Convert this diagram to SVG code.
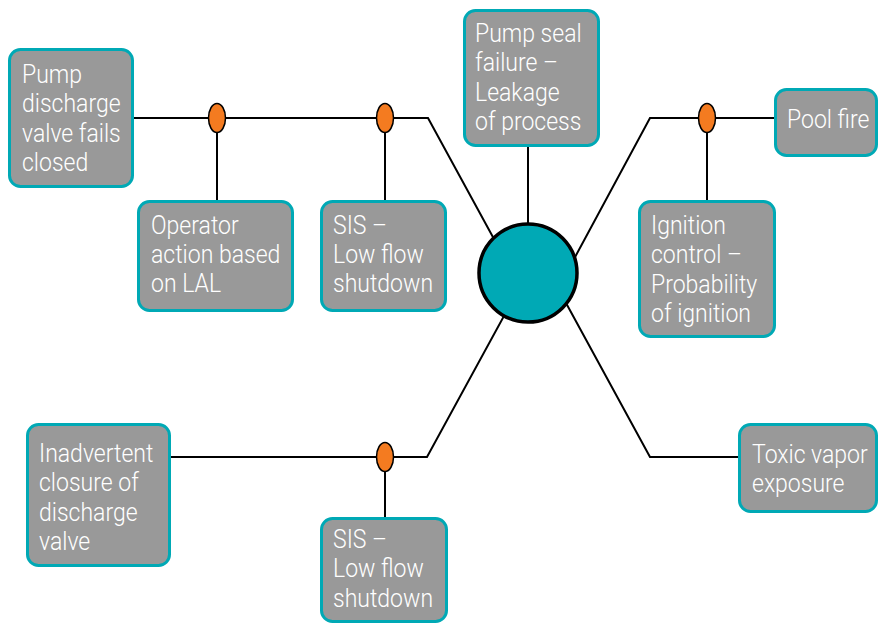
<svg xmlns="http://www.w3.org/2000/svg" width="880" height="626" viewBox="0 0 880 626">
  <style>
    .box { fill: #999999; stroke: #00A9B5; stroke-width: 3; }
    .lbl { font-family: Roboto, "Liberation Sans", sans-serif; font-weight: 300; font-size: 26px; fill: #FFFFFF; }
    .wire { fill: none; stroke: #000000; stroke-width: 2; stroke-linejoin: miter; }
    .gate { fill: #F47B20; stroke: #000000; stroke-width: 1.5; }
    .hub { fill: #00A9B5; stroke: #000000; stroke-width: 3.5; }
  </style>
  <rect width="880" height="626" fill="#FFFFFF"/>

  <!-- connectors -->
  <g id="connectors">
    <polyline class="wire" points="134,118 428,118 500,250"/>
    <line class="wire" x1="217" y1="118" x2="217" y2="200"/>
    <line class="wire" x1="385" y1="118" x2="385" y2="200"/>
    <line class="wire" x1="528" y1="147" x2="528" y2="230"/>
    <polyline class="wire" points="774,118 650,118 560,285"/>
    <line class="wire" x1="707" y1="118" x2="707" y2="200"/>
    <polyline class="wire" points="171,457 427,457 510,305"/>
    <line class="wire" x1="385" y1="457" x2="385" y2="517"/>
    <polyline class="wire" points="738,457 650,457 560,292"/>
    <ellipse class="gate" cx="217" cy="118" rx="8.5" ry="14.5"/>
    <ellipse class="gate" cx="385" cy="118" rx="8.5" ry="14.5"/>
    <ellipse class="gate" cx="707" cy="118" rx="8.5" ry="14.5"/>
    <ellipse class="gate" cx="385" cy="457" rx="8.5" ry="14.5"/>
  </g>

  <g id="hub">
    <circle class="hub" cx="528" cy="273" r="49"/>
  </g>

  <!-- labels are set in a narrowed sans: each text block is squeezed horizontally -->
  <g id="pump-discharge">
    <rect class="box" x="9.5" y="49.5" width="123" height="137" rx="11"/>
    <text class="lbl" transform="translate(22,0) scale(0.885,1)"><tspan x="0" y="83">Pump</tspan><tspan x="0" y="112">discharge</tspan><tspan x="0" y="142">valve fails</tspan><tspan x="0" y="171">closed</tspan></text>
  </g>

  <g id="operator-action">
    <rect class="box" x="138.5" y="201.5" width="154" height="109" rx="11"/>
    <text class="lbl" transform="translate(151,0) scale(0.885,1)"><tspan x="0" y="234">Operator</tspan><tspan x="0" y="263">action based</tspan><tspan x="0" y="292">on LAL</tspan></text>
  </g>

  <g id="sis-upper">
    <rect class="box" x="321.5" y="201.5" width="124" height="109" rx="11"/>
    <text class="lbl" transform="translate(333,0) scale(0.885,1)"><tspan x="0" y="234">SIS –</tspan><tspan x="0" y="263">Low flow</tspan><tspan x="0" y="292">shutdown</tspan></text>
  </g>

  <g id="pump-seal">
    <rect class="box" x="464.5" y="10.5" width="134" height="135" rx="11"/>
    <text class="lbl" transform="translate(475,0) scale(0.885,1)"><tspan x="0" y="42">Pump seal</tspan><tspan x="0" y="71">failure –</tspan><tspan x="0" y="101">Leakage</tspan><tspan x="0" y="130">of process</tspan></text>
  </g>

  <g id="pool-fire">
    <rect class="box" x="775.5" y="89.5" width="101" height="66" rx="11"/>
    <text class="lbl" transform="translate(787,0) scale(0.885,1)"><tspan x="0" y="128">Pool fire</tspan></text>
  </g>

  <g id="ignition-control">
    <rect class="box" x="639.5" y="201.5" width="135" height="135" rx="11"/>
    <text class="lbl" transform="translate(651,0) scale(0.885,1)"><tspan x="0" y="234">Ignition</tspan><tspan x="0" y="263">control –</tspan><tspan x="0" y="293">Probability</tspan><tspan x="0" y="322">of ignition</tspan></text>
  </g>

  <g id="inadvertent-closure">
    <rect class="box" x="27.5" y="424.5" width="142" height="141" rx="11"/>
    <text class="lbl" transform="translate(39,0) scale(0.885,1)"><tspan x="0" y="462">Inadvertent</tspan><tspan x="0" y="491">closure of</tspan><tspan x="0" y="521">discharge</tspan><tspan x="0" y="550">valve</tspan></text>
  </g>

  <g id="sis-lower">
    <rect class="box" x="321.5" y="518.5" width="125" height="103" rx="11"/>
    <text class="lbl" transform="translate(333,0) scale(0.885,1)"><tspan x="0" y="548">SIS –</tspan><tspan x="0" y="577">Low flow</tspan><tspan x="0" y="607">shutdown</tspan></text>
  </g>

  <g id="toxic-vapor">
    <rect class="box" x="739.5" y="424.5" width="137" height="87" rx="11"/>
    <text class="lbl" transform="translate(752,0) scale(0.885,1)"><tspan x="0" y="463">Toxic vapor</tspan><tspan x="0" y="492">exposure</tspan></text>
  </g>
</svg>
